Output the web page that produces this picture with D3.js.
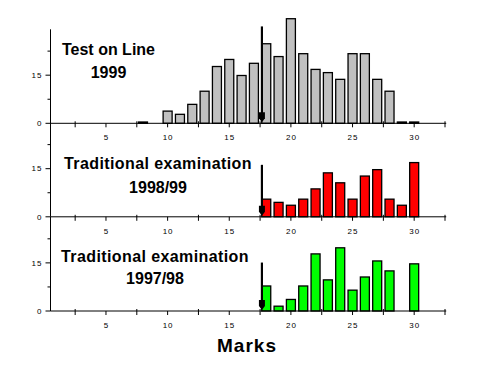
<!DOCTYPE html>
<html>
<head>
<meta charset="utf-8">
<script src="https://cdn.jsdelivr.net/npm/d3@7"></script>
<style>
  body { margin: 0; background: #fff; }
  text { font-family: Arial, "Liberation Sans", sans-serif; }
</style>
</head>
<body>
<div id="chart"></div>
<script>
// marks on the x axis
const marks = d3.range(8, 31);

// percentages per mark, one array per exam (null = no bar)
const testOnLine1999 = [0.4, null, 3.8, 2.8, 5.9, 10.0, 17.7, 19.9, 14.9, 18.7, 24.8, 20.8, 32.6, 21.7, 16.8, 15.8, 13.7, 21.7, 21.7, 13.7, 10.0, 0.4, 0.4];
const trad199899 = [null, null, null, null, null, null, null, null, null, null, 5.5, 4.5, 3.6, 5.5, 8.7, 13.7, 10.6, 5.5, 12.7, 14.7, 5.5, 3.6, 16.9];
const trad199798 = [null, null, null, null, null, null, null, null, null, null, 7.8, 1.5, 3.6, 7.8, 17.8, 9.7, 19.7, 6.5, 10.6, 15.6, 12.5, null, 14.7];

const panelTitles = [["Test on Line", "1999"], ["Traditional examination", "1998/99"], ["Traditional examination", "1997/98"]];
const panelValues = [testOnLine1999, trad199899, trad199798];
const panelColors = ["#c0c0c0", "#ff0000", "#00ff00"];

// pass mark arrow: x position and top of arrow (data units)
const arrowMark = 17.65;
const arrowTops = [30.2, 16.2, 15.1];

const xTickLabels = [5, 10, 15, 20, 25, 30];
const xTicks = d3.range(2.5, 33, 2.5);
const yTickLabels = [0, 15];
const yMinorTicks = [7.5, 22.5];

const width = 485;
const height = 389;
const baselines = [123.3, 216.8, 311];
const panelHeight = 94;

const svg = d3.select('#chart')
    .append('svg')
        .attr('width', width)
        .attr('height', height);

const x = d3.scaleLinear()
    .domain([0.5, 32.5])
    .range([50.5, 445]);

const barW = x(0.73) - x(0);

panelValues.forEach((values, p) => {
    const b = baselines[p];
    const y = d3.scaleLinear()
        .domain([0, 29.3])
        .range([b, b - panelHeight]);

    const g = svg.append('g');

    // bars
    const data = marks.map((m, i) => ({mark: m, value: values[i]}))
        .filter(d => d.value != null);
    g.selectAll('rect')
        .data(data)
        .enter()
        .append('rect')
            .attr('x', d => x(d.mark) - barW / 2)
            .attr('y', d => y(d.value))
            .attr('width', barW)
            .attr('height', d => y(0) - y(d.value))
            .attr('fill', panelColors[p])
            .attr('stroke', '#000')
            .attr('stroke-width', 1.3);

    // y axis
    g.append('line')
        .attr('x1', x(0.5)).attr('x2', x(0.5))
        .attr('y1', y(0)).attr('y2', y(29.3))
        .attr('stroke', '#000').attr('stroke-width', 1);
    g.selectAll('.ytick')
        .data(yTickLabels)
        .enter()
        .append('line')
            .attr('x1', x(0.5) - 5).attr('x2', x(0.5))
            .attr('y1', d => y(d)).attr('y2', d => y(d))
            .attr('stroke', '#000');
    g.selectAll('.yminor')
        .data(yMinorTicks)
        .enter()
        .append('line')
            .attr('x1', x(0.5) - 3).attr('x2', x(0.5))
            .attr('y1', d => y(d)).attr('y2', d => y(d))
            .attr('stroke', '#000');
    g.selectAll('.ylab')
        .data(yTickLabels)
        .enter()
        .append('text')
            .attr('x', x(0.5) - 8)
            .attr('y', d => y(d))
            .attr('dy', '0.35em')
            .attr('text-anchor', 'end')
            .attr('font-size', 8)
            .attr('letter-spacing', 1)
            .text(d => d);

    // x axis
    g.append('line')
        .attr('x1', x(0.5)).attr('x2', x(32.6))
        .attr('y1', y(0)).attr('y2', y(0))
        .attr('stroke', '#000').attr('stroke-width', 1);
    g.selectAll('.xtick')
        .data(xTicks)
        .enter()
        .append('line')
            .attr('x1', d => x(d)).attr('x2', d => x(d))
            .attr('y1', d => y(0) - (d % 5 === 0 ? 0 : 2))
            .attr('y2', d => y(0) + 4)
            .attr('stroke', '#000');
    g.selectAll('.xlab')
        .data(xTickLabels)
        .enter()
        .append('text')
            .attr('x', d => x(d) + 0.5)
            .attr('y', y(0) + 17)
            .attr('text-anchor', 'middle')
            .attr('font-size', 8)
            .attr('letter-spacing', 1)
            .text(d => d);

    // pass mark arrow
    const ax = x(arrowMark);
    g.append('line')
        .attr('x1', ax).attr('x2', ax)
        .attr('y1', y(arrowTops[p])).attr('y2', y(0) - 8)
        .attr('stroke', '#000').attr('stroke-width', 2.2);
    g.append('path')
        .attr('d', `M${ax - 3},${y(0) - 11} L${ax + 3},${y(0) - 11} L${ax + 3},${y(0) - 5} L${ax},${y(0) - 1} L${ax - 3},${y(0) - 5} Z`)
        .attr('fill', '#000');

    // panel title
    const cx = [108.5, 158, 155][p];
    const t = g.append('text')
        .attr('text-anchor', 'middle')
        .attr('font-size', 16)
        .attr('font-weight', 'bold');
    t.append('tspan')
        .attr('x', cx).attr('y', b - [68, 47.5, 49.5][p])
        .attr('letter-spacing', p === 0 ? 0 : 0.4)
        .text(panelTitles[p][0]);
    t.append('tspan')
        .attr('x', cx).attr('y', b - [45.5, 24, 27][p])
        .text(panelTitles[p][1]);
});

svg.append('text')
    .attr('x', 247)
    .attr('y', 352)
    .attr('text-anchor', 'middle')
    .attr('font-size', 19)
    .attr('font-weight', 'bold')
    .attr('letter-spacing', 1)
    .text('Marks');
</script>
</body>
</html>
